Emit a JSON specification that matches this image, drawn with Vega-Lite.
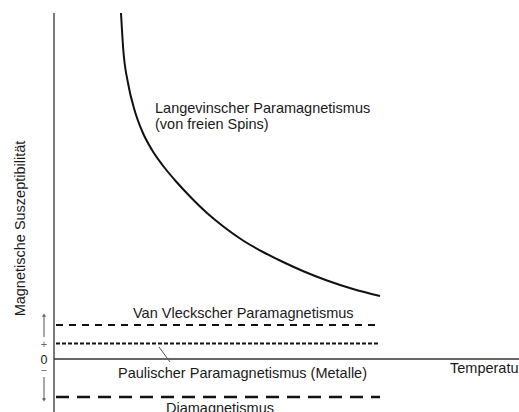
{
  "$schema": "https://vega.github.io/schema/vega-lite/v6.json",
  "width": 519,
  "height": 412,
  "autosize": {"type": "none"},
  "padding": 0,
  "background": "white",
  "config": {"view": {"stroke": null}, "text": {"font": "Liberation Sans", "fontSize": 14.5, "color": "#1a1a1a"}},
  "datasets": {
    "curve": [
      {"T": 6.7, "chi": 34.6}, {"T": 6.93, "chi": 30.9}, {"T": 7.4, "chi": 27.6}, {"T": 8.05, "chi": 24.9},
      {"T": 8.85, "chi": 22.7}, {"T": 9.8, "chi": 20.9}, {"T": 11.0, "chi": 19.2}, {"T": 12.3, "chi": 17.65},
      {"T": 13.7, "chi": 16.15}, {"T": 15.3, "chi": 14.6}, {"T": 17.0, "chi": 13.2}, {"T": 18.9, "chi": 11.85},
      {"T": 20.9, "chi": 10.7}, {"T": 22.8, "chi": 9.75}, {"T": 25.0, "chi": 8.75}, {"T": 27.3, "chi": 7.85},
      {"T": 29.9, "chi": 7.0}, {"T": 32.6, "chi": 6.3}
    ],
    "levels": [
      {"name": "vanvleck", "chi": 3.4, "T0": 0.2, "T1": 32.6},
      {"name": "pauli", "chi": 1.55, "T0": 0.2, "T1": 32.6},
      {"name": "dia", "chi": -3.8, "T0": 0.2, "T1": 32.6}
    ],
    "axes": [
      {"name": "yaxis", "T0": 0, "T1": 0, "c0": -5.4, "c1": 34.6},
      {"name": "zero", "T0": 0, "T1": 46.5, "c0": 0, "c1": 0}
    ],
    "thin": [
      {"name": "up", "T0": -1.0, "T1": -1.0, "c0": 2.2, "c1": 4.4},
      {"name": "down", "T0": -1.0, "T1": -1.0, "c0": -1.8, "c1": -4.1},
      {"name": "leader", "T0": 10.5, "T1": 11.6, "c0": 1.2, "c1": -0.3}
    ],
    "tips": [
      {"dir": "up", "T": -1.0, "chi": 4.4},
      {"dir": "down", "T": -1.0, "chi": -4.1}
    ],
    "labels": [
      {"text": "Langevinscher Paramagnetismus", "T": 10.1, "chi": 24.6},
      {"text": "(von freien Spins)", "T": 10.1, "chi": 23.0},
      {"text": "Van Vleckscher Paramagnetismus", "T": 7.9, "chi": 4.1},
      {"text": "Paulischer Paramagnetismus (Metalle)", "T": 6.4, "chi": -1.9},
      {"text": "Temperatur", "T": 39.6, "chi": -1.4},
      {"text": "Diamagnetismus", "T": 11.2, "chi": -5.4}
    ],
    "signs": [
      {"text": "+", "T": -1.0, "chi": 1.45, "size": 11, "col": "#666"},
      {"text": "0", "T": -1.0, "chi": -0.05, "size": 12.5, "col": "#1a1a1a"},
      {"text": "−", "T": -1.0, "chi": -1.2, "size": 11, "col": "#666"}
    ],
    "title": [{"text": "Magnetische Suszeptibilität", "T": -2.9, "chi": 13.05}]
  },
  "layer": [
    {
      "data": {"name": "axes"},
      "mark": {"type": "rule", "color": "#333", "strokeWidth": 1.3},
      "encoding": {
        "x": {"field": "T0", "type": "quantitative", "scale": {"domain": [-5.4, 46.5], "nice": false, "zero": false}, "axis": null},
        "x2": {"field": "T1"},
        "y": {"field": "c0", "type": "quantitative", "scale": {"domain": [-5.3, 35.9], "nice": false, "zero": false}, "axis": null},
        "y2": {"field": "c1"}
      }
    },
    {
      "data": {"name": "thin"},
      "mark": {"type": "rule", "color": "#555", "strokeWidth": 1},
      "encoding": {
        "x": {"field": "T0", "type": "quantitative"},
        "x2": {"field": "T1"},
        "y": {"field": "c0", "type": "quantitative"},
        "y2": {"field": "c1"}
      }
    },
    {
      "data": {"name": "tips"},
      "mark": {"type": "point", "filled": true, "color": "#444", "size": 18},
      "encoding": {
        "x": {"field": "T", "type": "quantitative"},
        "y": {"field": "chi", "type": "quantitative"},
        "shape": {"field": "dir", "type": "nominal", "scale": {"domain": ["up", "down"], "range": ["triangle-up", "triangle-down"]}, "legend": null}
      }
    },
    {
      "data": {"name": "levels"},
      "transform": [{"filter": "datum.name === 'vanvleck'"}],
      "mark": {"type": "rule", "color": "#111", "strokeWidth": 2, "strokeDash": [7, 6]},
      "encoding": {
        "x": {"field": "T0", "type": "quantitative"},
        "x2": {"field": "T1"},
        "y": {"field": "chi", "type": "quantitative"}
      }
    },
    {
      "data": {"name": "levels"},
      "transform": [{"filter": "datum.name === 'pauli'"}],
      "mark": {"type": "rule", "color": "#111", "strokeWidth": 2, "strokeDash": [4, 2]},
      "encoding": {
        "x": {"field": "T0", "type": "quantitative"},
        "x2": {"field": "T1"},
        "y": {"field": "chi", "type": "quantitative"}
      }
    },
    {
      "data": {"name": "levels"},
      "transform": [{"filter": "datum.name === 'dia'"}],
      "mark": {"type": "rule", "color": "#111", "strokeWidth": 2.5, "strokeDash": [13, 8]},
      "encoding": {
        "x": {"field": "T0", "type": "quantitative"},
        "x2": {"field": "T1"},
        "y": {"field": "chi", "type": "quantitative"}
      }
    },
    {
      "data": {"name": "curve"},
      "mark": {"type": "line", "color": "#111", "strokeWidth": 2, "interpolate": "monotone"},
      "encoding": {
        "x": {"field": "T", "type": "quantitative"},
        "y": {"field": "chi", "type": "quantitative"}
      }
    },
    {
      "data": {"name": "labels"},
      "mark": {"type": "text", "align": "left", "baseline": "alphabetic"},
      "encoding": {
        "x": {"field": "T", "type": "quantitative"},
        "y": {"field": "chi", "type": "quantitative"},
        "text": {"field": "text"}
      }
    },
    {
      "data": {"name": "signs"},
      "mark": {"type": "text", "align": "center", "baseline": "middle"},
      "encoding": {
        "x": {"field": "T", "type": "quantitative"},
        "y": {"field": "chi", "type": "quantitative"},
        "text": {"field": "text"},
        "size": {"field": "size", "type": "quantitative", "scale": null},
        "color": {"field": "col", "type": "nominal", "scale": null}
      }
    },
    {
      "data": {"name": "title"},
      "mark": {"type": "text", "align": "center", "baseline": "alphabetic", "angle": 270},
      "encoding": {
        "x": {"field": "T", "type": "quantitative"},
        "y": {"field": "chi", "type": "quantitative"},
        "text": {"field": "text"}
      }
    }
  ]
}
